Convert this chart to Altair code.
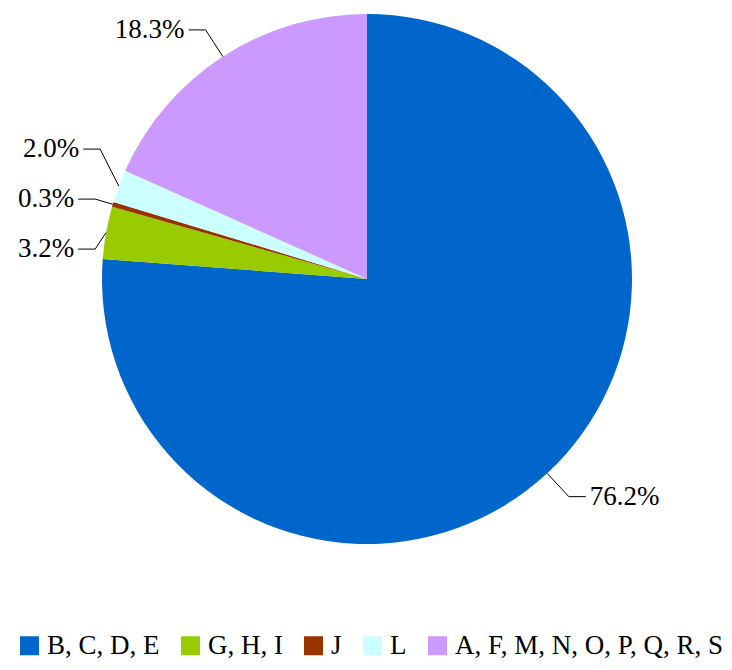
import math
import altair as alt
import pandas as pd

# ---- data ----
categories = ["B, C, D, E", "G, H, I", "J", "L", "A, F, M, N, O, P, Q, R, S"]
values = [76.2, 3.2, 0.3, 2.0, 18.3]
labels = ["76.2%", "3.2%", "0.3%", "2.0%", "18.3%"]
colors = ["#0066CC", "#99CC00", "#993300", "#CCFFFF", "#CC99FF"]

# ---- layout / style constants ----
W, H = 716, 654          # whole drawing area (pixels)
CX, CY = 359, 271        # pie centre inside the drawing area
R = 265                  # pie radius
ELBOW = 1.12             # leader elbow radius factor
SEG = 17                 # horizontal leader segment
GAP = 4                  # gap between leader and label
MIN_SEP = 50             # min vertical separation of labels
EDGE_MARGIN = 10         # keep labels this far from the drawing edge
FONT = "Liberation Serif"
LABEL_SIZE = 27
CHAR_W = 0.5 * LABEL_SIZE   # approx. digit width for label fitting

total = sum(values)
cum = 0.0
items = []
for i, (c, v, l) in enumerate(zip(categories, values, labels)):
    mid = (cum + v / 2) / total * 2 * math.pi
    cum += v
    sx, sy = math.sin(mid), math.cos(mid)
    items.append(dict(cat=c, idx=i, label=l,
                      ex=R * sx, ey=R * sy,
                      ky=ELBOW * R * sy,
                      side=1 if sx >= 0 else -1))


def spread(side_items):
    its = sorted(side_items, key=lambda d: -d["ky"])
    groups = []
    for it in its:
        groups.append([it])
        while len(groups) > 1:
            g = groups[-1]
            n = len(g)
            mean = sum(m["ky"] for m in g) / n
            top = mean + (n - 1) * MIN_SEP / 2
            p = groups[-2]
            pn = len(p)
            pmean = sum(m["ky"] for m in p) / pn
            pbottom = pmean - (pn - 1) * MIN_SEP / 2
            if pbottom - top < MIN_SEP:
                merged = p + g
                groups.pop()
                groups[-1] = merged
            else:
                break
    for g in groups:
        n = len(g)
        mean = sum(m["ky"] for m in g) / n
        for j, m in enumerate(g):
            m["ly"] = mean + (n - 1) * MIN_SEP / 2 - j * MIN_SEP


spread([d for d in items if d["side"] > 0])
spread([d for d in items if d["side"] < 0])

line_rows, text_rows = [], []
for d in items:
    re_ = ELBOW * R
    kx = d["side"] * math.sqrt(max(re_ ** 2 - d["ly"] ** 2, 0))
    # keep the label inside the drawing area
    est_w = (len(d["label"]) - 2) * CHAR_W + 0.25 * LABEL_SIZE + 0.83 * LABEL_SIZE
    room = (CX if d["side"] < 0 else W - CX) - EDGE_MARGIN - est_w - SEG - GAP
    kx = d["side"] * min(abs(kx), room)
    pts = [(d["ex"], d["ey"]), (kx, d["ly"]), (kx + d["side"] * SEG, d["ly"])]
    for k, (x, y) in enumerate(pts):
        line_rows.append(dict(cat=d["cat"], pt=k, x=x, y=y))
    text_rows.append(dict(cat=d["cat"], label=d["label"],
                          x=kx + d["side"] * (SEG + GAP), y=d["ly"],
                          side=d["side"]))

pie_df = pd.DataFrame({"cat": categories, "value": values, "idx": range(len(values))})
line_df = pd.DataFrame(line_rows)
text_df = pd.DataFrame(text_rows)

xs = alt.Scale(domain=[-CX, W - CX], nice=False, zero=False)
ys = alt.Scale(domain=[CY - H, CY], nice=False, zero=False)

pie = alt.Chart(pie_df).mark_arc(outerRadius=R, strokeWidth=0).encode(
    x=alt.X(datum=0, scale=xs, axis=None),
    y=alt.Y(datum=0, scale=ys, axis=None),
    theta=alt.Theta("value:Q", stack=True),
    order=alt.Order("idx:Q"),
    color=alt.Color(
        "cat:N",
        scale=alt.Scale(domain=categories, range=colors),
        legend=alt.Legend(
            title=None, orient="none", direction="horizontal", columns=5,
            legendX=8, legendY=624,
            symbolType="square", symbolSize=361, symbolStrokeWidth=0,
            labelFont=FONT, labelFontSize=27, labelColor="black",
            labelOffset=4, columnPadding=17, padding=0,
            labelLimit=1000,
        ),
    ),
)

leaders = alt.Chart(line_df).mark_line(color="black", strokeWidth=1).encode(
    x=alt.X("x:Q", scale=xs, axis=None),
    y=alt.Y("y:Q", scale=ys, axis=None),
    detail="cat:N",
    order="pt:Q",
)

txt_right = alt.Chart(text_df[text_df.side > 0]).mark_text(
    align="left", baseline="middle", font=FONT, fontSize=LABEL_SIZE, color="black"
).encode(x=alt.X("x:Q", scale=xs, axis=None), y=alt.Y("y:Q", scale=ys, axis=None), text="label:N")

txt_left = alt.Chart(text_df[text_df.side < 0]).mark_text(
    align="right", baseline="middle", font=FONT, fontSize=LABEL_SIZE, color="black"
).encode(x=alt.X("x:Q", scale=xs, axis=None), y=alt.Y("y:Q", scale=ys, axis=None), text="label:N")

chart = alt.layer(pie, leaders, txt_right, txt_left).properties(
    width=W, height=H, padding=0, autosize=alt.AutoSizeParams(type="none")
).configure_view(stroke=None)

chart.save("out.html", embed_options={"renderer": "svg", "actions": False})
